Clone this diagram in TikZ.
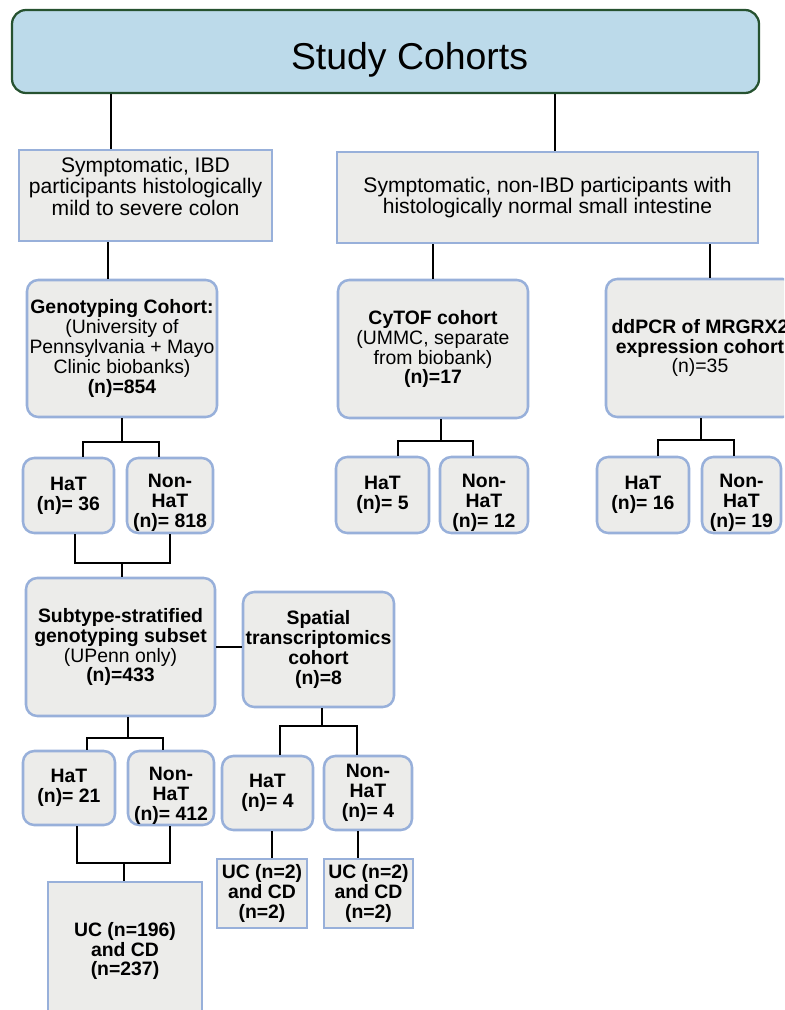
\documentclass[tikz,border=0pt]{standalone}
\usepackage{fontspec}
\setmainfont{Liberation Sans}
\definecolor{titlefill}{RGB}{188,218,234}
\definecolor{titleedge}{RGB}{38,82,48}
\definecolor{boxfill}{RGB}{236,236,234}
\definecolor{boxedge}{RGB}{152,176,218}
% struts that push a box's text down or up
\newcommand{\sinkline}{\rule{0pt}{20pt}}
\newcommand{\liftline}{\rule[-13pt]{0pt}{0pt}}
\tikzset{
  dims/.style 2 args={minimum width=#1*0.025cm, minimum height=#2*0.025cm},
  group/.style={draw=boxedge, fill=boxfill, line width=1.8pt, inner sep=0pt,
    align=center, font=\fontsize{15}{15.2}\selectfont},
  cohort/.style={group, rounded corners=8pt, font=\fontsize{13.8}{14.2}\selectfont},
  split/.style={cohort, font=\fontsize{13.8}{14.2}\selectfont\bfseries},
  subset/.style={group, font=\fontsize{13.8}{14.2}\selectfont\bfseries},
  link/.style={line width=1.6pt},
}
\begin{document}
\begin{tikzpicture}[x=0.025cm, y=-0.025cm]
  \useasboundingbox (0,0) rectangle (784,1010);
  \clip (0,0) rectangle (784,1010);

  \node[draw=titleedge, fill=titlefill, line width=1.6pt, rounded corners=10pt,
    dims={747}{83}, font=\fontsize{26.6}{30}\selectfont] (title) at (385.5,51.5)
    {\hspace*{1.2cm}\raisebox{-13pt}[0pt][0pt]{Study Cohorts}};

  % patient groups
  \node[group, dims={253}{91}] (ibd) at (145.5,195.5)
    {Symptomatic, IBD\\participants histologically\\mild to severe colon\liftline};
  \node[group, dims={421}{91}] (nonibd) at (547.5,197.5)
    {Symptomatic, non-IBD participants with\\histologically normal small intestine};

  % cohorts
  \node[cohort, dims={190}{137}] (geno) at (122,348.5)
    {\textbf{Genotyping Cohort:}\\(University of\\Pennsylvania + Mayo\\Clinic biobanks)\\\textbf{(n)=854}};
  \node[cohort, dims={190}{138}] (cytof) at (433,349)
    {\textbf{CyTOF cohort}\\(UMMC, separate\\from biobank)\\\textbf{(n)=17}};
  \node[cohort, dims={188}{138}] (ddpcr) at (700,348)
    {\textbf{ddPCR of MRGRX2}\\\textbf{expression cohort}\\(n)=35};

  \node[split, dims={91}{75}] (hatA) at (68.5,495.5) {HaT\\(n)= 36};
  \node[split, dims={86}{75}] (nonA) at (170,495.5) {\sinkline Non-\\HaT\\(n)= 818};
  \node[split, dims={93}{76}] (hatB) at (382.5,495) {HaT\\(n)= 5};
  \node[split, dims={88}{76}] (nonB) at (484,495) {\sinkline Non-\\HaT\\(n)= 12};
  \node[split, dims={92}{76}] (hatC) at (643,495) {HaT\\(n)= 16};
  \node[split, dims={79}{76}] (nonC) at (741.5,495) {\sinkline Non-\\HaT\\(n)= 19};

  \node[cohort, dims={189}{138}] (subtype) at (120.5,647)
    {\textbf{Subtype-stratified}\\\textbf{genotyping subset}\\(UPenn only)\\\textbf{(n)=433}};
  \node[split, dims={151}{115}] (spatial) at (318.5,649.5)
    {Spatial\\transcriptomics\\cohort\\(n)=8};

  \node[split, dims={92}{74}] (hatD) at (69,788) {HaT\\(n)= 21};
  \node[split, dims={86}{74}] (nonD) at (171,788) {\sinkline Non-\\HaT\\(n)= 412};
  \node[split, dims={91}{74}] (hatE) at (267.5,793) {HaT\\(n)= 4};
  \node[split, dims={88}{74}] (nonE) at (368,793) {Non-\\HaT\\(n)= 4};

  \node[subset, dims={154}{138}] (uc) at (125,951) {UC (n=196)\\and CD\\(n=237)};
  \node[subset, dims={90}{69}] (ucE1) at (262,893.5) {UC (n=2)\\and CD\\(n=2)};
  \node[subset, dims={89}{69}] (ucE2) at (368.5,893.5) {UC (n=2)\\and CD\\(n=2)};

  % branch points
  \coordinate (xa) at (111,0);
  \coordinate (xb) at (555,0);
  \coordinate (xc) at (108,0);
  \coordinate (xd) at (710,0);
  \coordinate (xi) at (272,0);
  \coordinate (xj) at (358,0);
  \coordinate (fa) at (122,442);  \coordinate (fal) at (83,442);  \coordinate (far) at (159,442);
  \coordinate (fb) at (441,441);  \coordinate (fbl) at (398,441); \coordinate (fbr) at (473,441);
  \coordinate (fc) at (701,440);  \coordinate (fcl) at (658,440); \coordinate (fcr) at (734,440);
  \coordinate (fd) at (122,563);  \coordinate (fdl) at (75,563);  \coordinate (fdr) at (170,563);
  \coordinate (ff) at (128,738);  \coordinate (ffl) at (87,738);  \coordinate (ffr) at (163,738);
  \coordinate (fg) at (322,726);  \coordinate (fgl) at (280,726); \coordinate (fgr) at (357,726);
  \coordinate (fh) at (124,863);  \coordinate (fhl) at (77,863);  \coordinate (fhr) at (170,863);

  % connectors
  \draw[link] (title.south -| xa) -- (ibd.north -| xa);
  \draw[link] (title.south -| xb) -- (nonibd.north -| xb);
  \draw[link] (ibd.south -| xc) -- (geno.north -| xc);
  \draw[link] (nonibd.south -| cytof.north) -- (cytof.north);
  \draw[link] (nonibd.south -| xd) -- (ddpcr.north -| xd);

  \draw[link] (geno.south -| fa) -- (fa);
  \draw[link] (hatA.north -| fal) -- (fal) -- (far) -- (nonA.north -| far);
  \draw[link] (cytof.south -| fb) -- (fb);
  \draw[link] (hatB.north -| fbl) -- (fbl) -- (fbr) -- (nonB.north -| fbr);
  \draw[link] (ddpcr.south -| fc) -- (fc);
  \draw[link] (hatC.north -| fcl) -- (fcl) -- (fcr) -- (nonC.north -| fcr);

  \draw[link] (hatA.south -| fdl) -- (fdl) -- (fdr) -- (nonA.south -| fdr);
  \draw[link] (fd) -- (subtype.north -| fd);
  \draw[link] (subtype.east) -- (spatial.west |- subtype.east);

  \draw[link] (subtype.south -| ff) -- (ff);
  \draw[link] (hatD.north -| ffl) -- (ffl) -- (ffr) -- (nonD.north -| ffr);
  \draw[link] (spatial.south -| fg) -- (fg);
  \draw[link] (hatE.north -| fgl) -- (fgl) -- (fgr) -- (nonE.north -| fgr);

  \draw[link] (hatD.south -| fhl) -- (fhl) -- (fhr) -- (nonD.south -| fhr);
  \draw[link] (fh) -- (uc.north -| fh);
  \draw[link] (hatE.south -| xi) -- (ucE1.north -| xi);
  \draw[link] (nonE.south -| xj) -- (ucE2.north -| xj);
\end{tikzpicture}
\end{document}
